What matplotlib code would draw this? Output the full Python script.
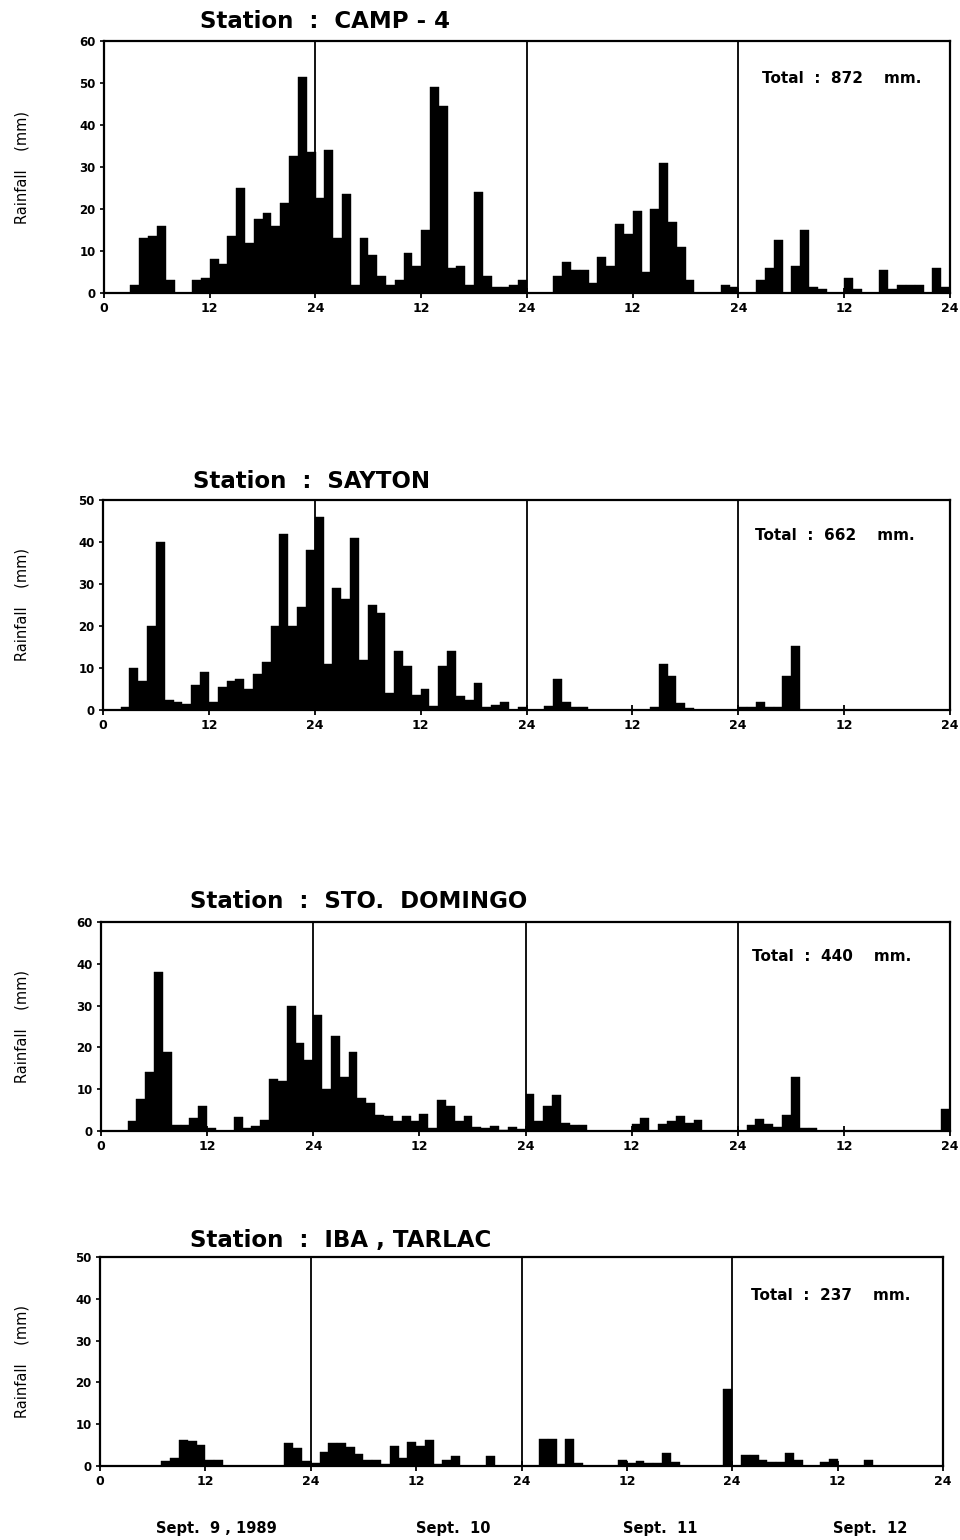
import numpy as np
import matplotlib.pyplot as plt

plt.rcParams['font.family'] = ['DejaVu Sans']
plt.rcParams['font.weight'] = 'bold'

# hourly rainfall (mm), Sept 9 - Sept 12, 1989 (24 values per day)
hours = np.arange(96)

camp4_rain = [0, 0, 0, 2, 13, 13.5, 16, 3, 0, 0, 3, 3.5, 8, 7, 13.5, 25, 12, 17.5, 19, 16, 21.5, 32.5, 51.5, 33.5,
              22.5, 34, 13, 23.5, 2, 13, 9, 4, 2, 3, 9.5, 6.5, 15, 49, 44.5, 6, 6.5, 2, 24, 4, 1.5, 1.5, 2, 3,
              0, 0, 0, 4, 7.5, 5.5, 5.5, 2.5, 8.5, 6.5, 16.5, 14, 19.5, 5, 20, 31, 17, 11, 3, 0, 0, 0, 2, 1.5,
              0, 0, 3, 6, 12.5, 0, 6.5, 15, 1.5, 1, 0, 0, 3.5, 1, 0, 0, 5.5, 1, 2, 2, 2, 0, 6, 1.5]

sayton_rain = [0, 0, 0.8, 10, 7, 20, 40, 2.5, 2, 1.5, 6, 9, 2, 5.5, 7, 7.5, 5, 8.5, 11.5, 20, 42, 20, 24.5, 38,
               46, 11, 29, 26.5, 41, 12, 25, 23, 4, 14, 10.5, 3.5, 5, 1, 10.5, 14, 3.3, 2.5, 6.5, 0.6, 1.2, 1.8, 0, 0.8,
               0, 0, 1, 7.3, 1.8, 0.8, 0.8, 0, 0, 0, 0, 0, 0, 0, 0.8, 11, 8, 1.6, 0.4, 0, 0, 0, 0, 0,
               0.6, 0.6, 2, 0.8, 0.8, 8, 15.3, 0, 0, 0, 0, 0, 0, 0, 0, 0, 0, 0, 0, 0, 0, 0, 0, 0]

stodomingo_rain = [0, 0, 0, 2.4, 7.6, 14, 38, 19, 1.5, 1.5, 3, 6, 0.6, 0, 0, 3.3, 0.6, 1.3, 2.7, 12.5, 12, 30, 21, 17,
                   27.7, 10, 22.8, 13, 18.8, 7.9, 6.7, 3.9, 3.5, 2.4, 3.5, 2.4, 4.1, 0.6, 7.4, 5.9, 2.4, 3.6, 0.9, 0.6, 1.3, 0.3, 0.9, 0.5,
                   8.8, 2.5, 6, 8.7, 2, 1.5, 1.5, 0, 0, 0, 0, 0, 1.7, 3, 0, 1.7, 2.4, 3.5, 2, 2.6, 0, 0, 0, 0,
                   0, 1.4, 2.8, 1.6, 0.9, 3.8, 12.8, 0.8, 0.6, 0, 0, 0, 0, 0, 0, 0, 0, 0, 0, 0, 0, 0, 0, 5.3]

iba_rain = [0, 0, 0, 0, 0, 0, 0, 1.2, 2, 6.3, 6, 5, 1.5, 1.5, 0, 0, 0, 0, 0, 0, 0, 5.5, 4.4, 1.2,
            0.6, 3.4, 5.6, 5.5, 4.6, 2.8, 1.4, 1.5, 0.4, 4.8, 2, 5.8, 4.8, 6.3, 0.4, 1.5, 2.4, 0, 0, 0, 2.4, 0, 0, 0,
            0, 0, 6.5, 6.5, 0.5, 6.5, 0.7, 0, 0, 0, 0, 1.4, 0.8, 1.2, 0.8, 0.8, 3.2, 1, 0, 0, 0, 0, 0, 18.5,
            0, 2.6, 2.6, 1.5, 1, 1, 3, 1.4, 0, 0, 1, 1.6, 0, 0, 0, 1.4, 0, 0, 0, 0, 0, 0, 0, 0]

stations = ['CAMP - 4', 'SAYTON', 'STO.  DOMINGO', 'IBA , TARLAC']
totals = [872, 662, 440, 237]
y_tops = [60, 50, 50, 50]
# the third panel's top label is printed "60" in the original
y_tick_labels = [['0', '10', '20', '30', '40', '50', '60'],
                 ['0', '10', '20', '30', '40', '50'],
                 ['0', '10', '20', '30', '40', '60'],
                 ['0', '10', '20', '30', '40', '50']]
x_tick_labels = ['0', '12', '24', '12', '24', '12', '24', '12', '24']
day_labels = ['Sept.  9 , 1989', 'Sept.  10', 'Sept.  11', 'Sept.  12']

all_rain = [camp4_rain, sayton_rain, stodomingo_rain, iba_rain]

W, H = 960, 1540
fig = plt.figure(figsize=(W / 100, H / 100), dpi=100)

# panel boxes in pixels: left, top, right, bottom
boxes = [(104, 41, 950, 293), (103, 500, 950, 710), (101, 922, 950, 1131), (100, 1257, 943, 1466)]
title_pos = [(200, 22), (193, 482), (190, 902), (190, 1240)]
total_pos = [(0.778, 0.853), (0.77, 0.83), (0.767, 0.837), (0.772, 0.818)]

for i in range(4):
    l, t, r, b = boxes[i]
    ax = fig.add_axes([l / W, 1 - b / H, (r - l) / W, (b - t) / H])
    ax.bar(hours, all_rain[i], width=1, align='edge', color='black', edgecolor='black', linewidth=0.3)
    for d in [24, 48, 72]:
        ax.axvline(d, color='black', lw=1.3)
    ax.set_xlim(0, 96)
    ax.set_ylim(0, y_tops[i])
    ax.set_xticks(np.arange(0, 97, 12))
    ax.set_xticklabels(x_tick_labels)
    ax.set_yticks(np.arange(0, y_tops[i] + 1, 10))
    ax.set_yticklabels(y_tick_labels[i])
    ax.tick_params(axis='x', direction='inout', length=7, width=1.3, labelsize=9, pad=3)
    ax.tick_params(axis='y', direction='out', length=3, width=1.2, labelsize=8.5, pad=3)
    for s in ax.spines.values():
        s.set_linewidth(1.6)
    ax.text(total_pos[i][0], total_pos[i][1], 'Total  :  %d    mm.' % totals[i],
            transform=ax.transAxes, fontsize=11, va='center', ha='left')

    fig.text(title_pos[i][0] / W, 1 - title_pos[i][1] / H, 'Station  :  ' + stations[i],
             fontsize=16.5, ha='left', va='center')
    fig.text(22 / W, 1 - (t + b) / 2 / H, 'Rainfall    (mm)', rotation=90,
             fontsize=10.5, ha='center', va='center', fontweight='normal')

# day labels under the last panel
day_x = [216, 453, 660, 870]
for x, lab in zip(day_x, day_labels):
    fig.text(x / W, 1 - 1528 / H, lab, fontsize=10.5, ha='center', va='center')

fig.savefig('out.png', dpi=100)
